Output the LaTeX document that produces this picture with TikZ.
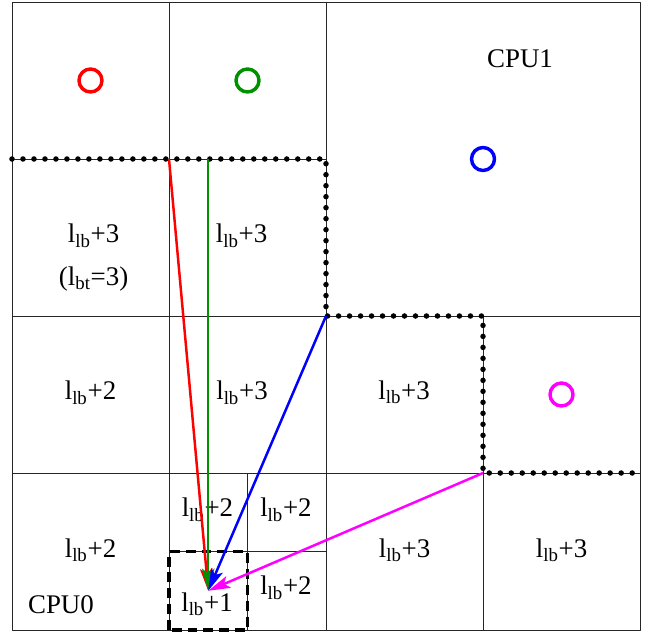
\documentclass[tikz,border=0pt]{standalone}
\usepackage{fontspec}
\setmainfont{Liberation Serif}
\usetikzlibrary{arrows.meta}
\newcommand{\llb}[1]{l\textsubscript{lb}+#1}
\definecolor{ringred}{RGB}{255,0,0}
\definecolor{ringgreen}{RGB}{0,145,0}
\definecolor{ringblue}{RGB}{0,0,255}
\definecolor{ringmag}{RGB}{255,0,255}
\begin{document}
\begin{tikzpicture}[x=4cm,y=4cm,line join=round,>={Stealth[length=16pt,width=9pt,inset=3.5pt]},font=\fontsize{19.5}{22}\selectfont]
	\tikzset{
		gridline/.style={black!85,line width=0.7pt},
		ring/.style={circle,draw=#1,line width=2.5pt,minimum size=0.586cm,inner sep=0pt},
		halo/.style={line width=4pt,line cap=round,dash pattern=on 0pt off 0.28cm},
		home/.style={line width=2.4pt,dash pattern=on 7.2pt off 4.3pt},
		send/.style={->,line width=1.8pt,draw=#1,fill=#1},
		lvl/.style={anchor=base}
	}
	\useasboundingbox (-0.0764,-0.0064) rectangle (4.0318,4.0127);
	% cells
	\draw[gridline] (0,0) rectangle (4,4);
	\draw[gridline] (1,0) -- (1,4) (2,0) -- (2,4) (3,0) -- (3,2);
	\draw[gridline] (0,3) -- (2,3) (0,2) -- (4,2) (0,1) -- (4,1);
	\draw[gridline] (1.5,0) -- (1.5,1) (1,0.5) -- (2,0.5);
	% ghost layer border
	\draw[halo] (0,3) -- (2,3) -- (2,2) -- (3,2) -- (3,1) -- (4,1);
	\draw[home] (1,0) rectangle (1.5,0.5);
	% ghost cells
	\node[ring=ringred] (g1) at (0.5,3.5) {};
	\node[ring=ringgreen] (g2) at (1.5,3.5) {};
	\node[ring=ringblue] (g3) at (3,3) {};
	\node[ring=ringmag] (g4) at (3.5,1.5) {};
	% levels
	\foreach \n/\x/\y/\k in {a/0.52/2.465/3,b/1.462/2.465/3,c/0.5/1.465/2,d/1.465/1.465/3,e/2.497/1.471/3,
		f/0.5/0.465/2,g/2.5/0.465/3,h/3.5/0.465/3,i/1.245/0.72/2,j/1.745/0.72/2,k/1.745/0.223/2,m/1.242/0.121/1}
		\node[lvl] (\n) at (\x,\y) {\llb{\k}};
	\node[lvl] (bt) at (0.52,2.197) {(l\textsubscript{bt}=3)};
	\node[lvl] (cpu1) at (3.236,3.58) {CPU1};
	\node[lvl] (cpu0) at (0.312,0.108) {CPU0};
	\path
	(1,3) coordinate (R)
	(1.25,3) coordinate (G)
	(2,2) coordinate (B)
	(3,1) coordinate (M)
	(1.25,0.25) coordinate (T)
	;
	\foreach \s/\c in {R/ringred,G/ringgreen,B/ringblue,M/ringmag} \draw[send=\c] (\s) -- (T);
\end{tikzpicture}
\end{document}
